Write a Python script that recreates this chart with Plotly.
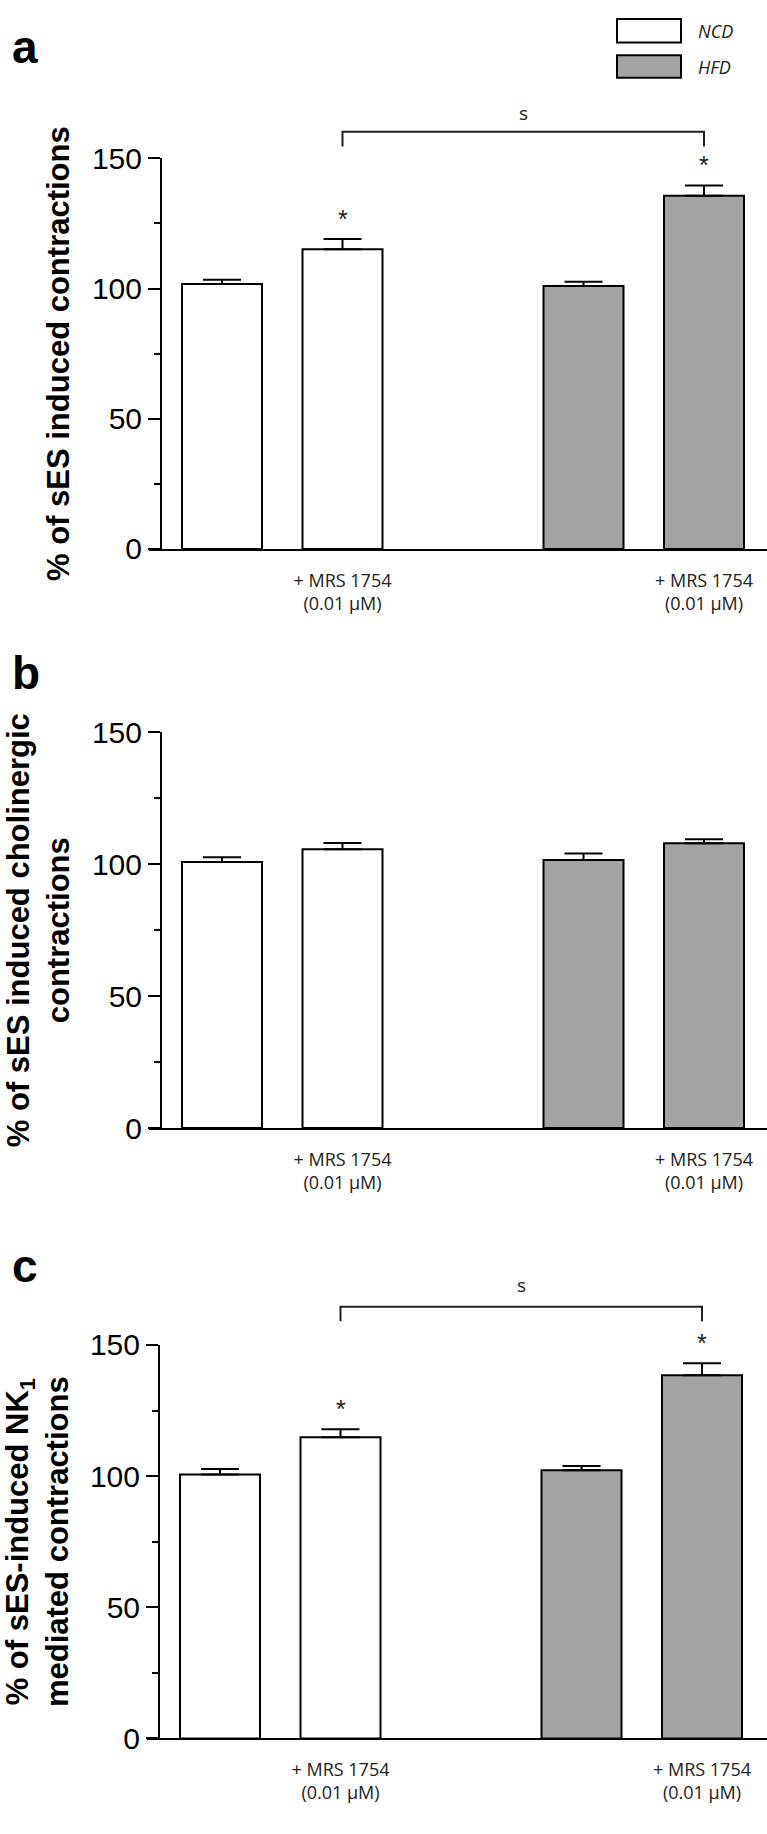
import plotly.graph_objects as go

# ---------------- data ----------------
positions = [0, 1, 3, 4]
groups = ["NCD", "NCD", "HFD", "HFD"]
series_names = ["NCD", "HFD"]
series_colors = ["#ffffff", "#a3a3a3"]
tick_positions = [1, 4]
tick_labels = ["+ MRS 1754<br>(0.01 µM)", "+ MRS 1754<br>(0.01 µM)"]
y_ticks = [0, 50, 100, 150]

a_mean = [101.7, 115.1, 101.0, 135.6]
a_sem = [1.7, 3.9, 1.6, 4.0]
a_star = [False, True, False, True]

b_mean = [100.9, 105.7, 101.6, 108.0]
b_sem = [1.8, 2.4, 2.5, 1.5]
b_star = [False, False, False, False]

c_mean = [100.6, 114.8, 102.2, 138.4]
c_sem = [2.1, 3.1, 1.7, 4.6]
c_star = [False, True, False, True]

panel_letters = ["a", "b", "c"]
panel_titles = [
    "% of sES induced contractions",
    "% of sES induced cholinergic<br>contractions",
    "% of sES-induced NK<sub>1</sub><br>mediated contractions",
]
bracket_pairs = [(1, 4), None, (1, 4)]
bracket_symbol = "s"

# ---------------- layout constants ----------------
W, H = 767, 1834
panels_px = [(144, 542), (729, 1132), (1353, 1754)]  # top, bottom pixel of y-axis
yaxis_px = [161, 161, 159]
first_center_px = [222, 222, 220]
unit_px = 120.5
bar_width = 80 / unit_px
letter_y_px = [31, 668, 1273]
bracket_px = [(117, 132, 98), None, (1314, 1329, 1292)]

means = [a_mean, b_mean, c_mean]
sems = [a_sem, b_sem, c_sem]
stars = [a_star, b_star, c_star]

fig = go.Figure()
layout = dict(
    width=W, height=H, margin=dict(l=0, r=0, t=0, b=0),
    paper_bgcolor="white", plot_bgcolor="white",
    showlegend=False, barmode="overlay",
    font=dict(family="Liberation Sans", color="black"),
)
shapes, annotations = [], []

for i in range(3):
    sfx = "" if i == 0 else str(i + 1)
    xa, ya = "x" + sfx, "y" + sfx
    top, bot = panels_px[i]
    dom = [(H - bot) / H, (H - top) / H]
    x_left_px = yaxis_px[i] - 12
    x0 = -(first_center_px[i] - x_left_px) / unit_px
    x1 = x0 + (W - x_left_px) / unit_px
    for name, col in zip(series_names, series_colors):
        idx = [k for k, g in enumerate(groups) if g == name]
        fig.add_trace(go.Bar(
            x=[positions[k] for k in idx],
            y=[means[i][k] for k in idx],
            width=bar_width, name=name,
            marker=dict(color=col, line=dict(color="black", width=2)),
            error_y=dict(type="data", symmetric=False,
                         array=[sems[i][k] for k in idx],
                         arrayminus=[0] * len(idx),
                         width=19, thickness=2, color="black"),
            xaxis=xa, yaxis=ya,
        ))
    layout["xaxis" + sfx] = dict(
        domain=[x_left_px / W, 1], range=[x0, x1], anchor=ya,
        showline=True, linecolor="black", linewidth=2,
        ticks="", tickvals=tick_positions, ticktext=tick_labels,
        tickfont=dict(family="Open Sans", size=18, color="#222"),
        ticklabelstandoff=14,
        showgrid=False, zeroline=False, fixedrange=True,
    )
    layout["yaxis" + sfx] = dict(
        domain=dom, range=[0, 150], anchor="free", position=yaxis_px[i] / W,
        showline=True, linecolor="black", linewidth=2,
        ticks="outside", ticklen=12, tickwidth=2, tickcolor="black",
        tickvals=y_ticks, tickfont=dict(family="Liberation Sans", size=30),
        minor=dict(ticks="outside", ticklen=6, tickwidth=2, tickcolor="black",
                   tick0=0, dtick=25),
        showgrid=False, zeroline=False, fixedrange=True,
        title=dict(text="<b>" + panel_titles[i] + "</b>",
                   font=dict(family="Liberation Sans", size=31),
                   standoff=12),
    )
    # panel letter
    annotations.append(dict(
        text="<b>" + panel_letters[i] + "</b>", xref="paper", yref="paper",
        x=10 / W, y=1 - letter_y_px[i] / H, xanchor="left", yanchor="middle",
        showarrow=False, font=dict(size=46, family="Liberation Sans"),
    ))
    # asterisks
    for k in range(4):
        if stars[i][k]:
            annotations.append(dict(
                text="*", xref=xa, yref=ya, x=positions[k],
                y=means[i][k] + sems[i][k], xanchor="center", yanchor="bottom",
                yshift=4, showarrow=False,
                font=dict(size=25, family="Liberation Sans", color="#222"),
            ))
    # bracket
    if bracket_pairs[i] is not None:
        p0, p1 = bracket_pairs[i]
        yh, ye, ys = bracket_px[i]
        yh_p, ye_p, ys_p = [(H - v) / H for v in (yh, ye, ys)]
        shapes.append(dict(
            type="path", xref=xa, yref="paper",
            path=f"M {p0} {ye_p} L {p0} {yh_p} L {p1} {yh_p} L {p1} {ye_p}",
            line=dict(color="#222", width=2),
        ))
        annotations.append(dict(
            text=bracket_symbol, xref=xa, yref="paper", x=(p0 + p1) / 2, y=ys_p,
            xanchor="center", yanchor="middle", showarrow=False,
            font=dict(size=19, family="Open Sans", color="#222"),
        ))

# legend (drawn boxes)
legend_boxes_px = [(2, 26), (39, 62)]
for (t, b), name, col in zip(legend_boxes_px, series_names, series_colors):
    shapes.append(dict(type="rect", xref="paper", yref="paper",
                       x0=617 / W, x1=681 / W, y0=(H - b) / H, y1=(H - t) / H,
                       fillcolor=col, line=dict(color="black", width=2)))
    annotations.append(dict(
        text="<i>" + name + "</i>", xref="paper", yref="paper",
        x=696 / W, y=(H - (t + b) / 2) / H, xanchor="left", yanchor="middle",
        showarrow=False, font=dict(size=18, family="Open Sans", color="#222"),
    ))

layout["shapes"] = shapes
layout["annotations"] = annotations
fig.update_layout(**layout)
fig.write_html(
    "out.html",
    config={"displayModeBar": False, "staticPlot": True},
    post_script="document.body.style.margin='0';document.body.style.overflow='hidden';",
)
